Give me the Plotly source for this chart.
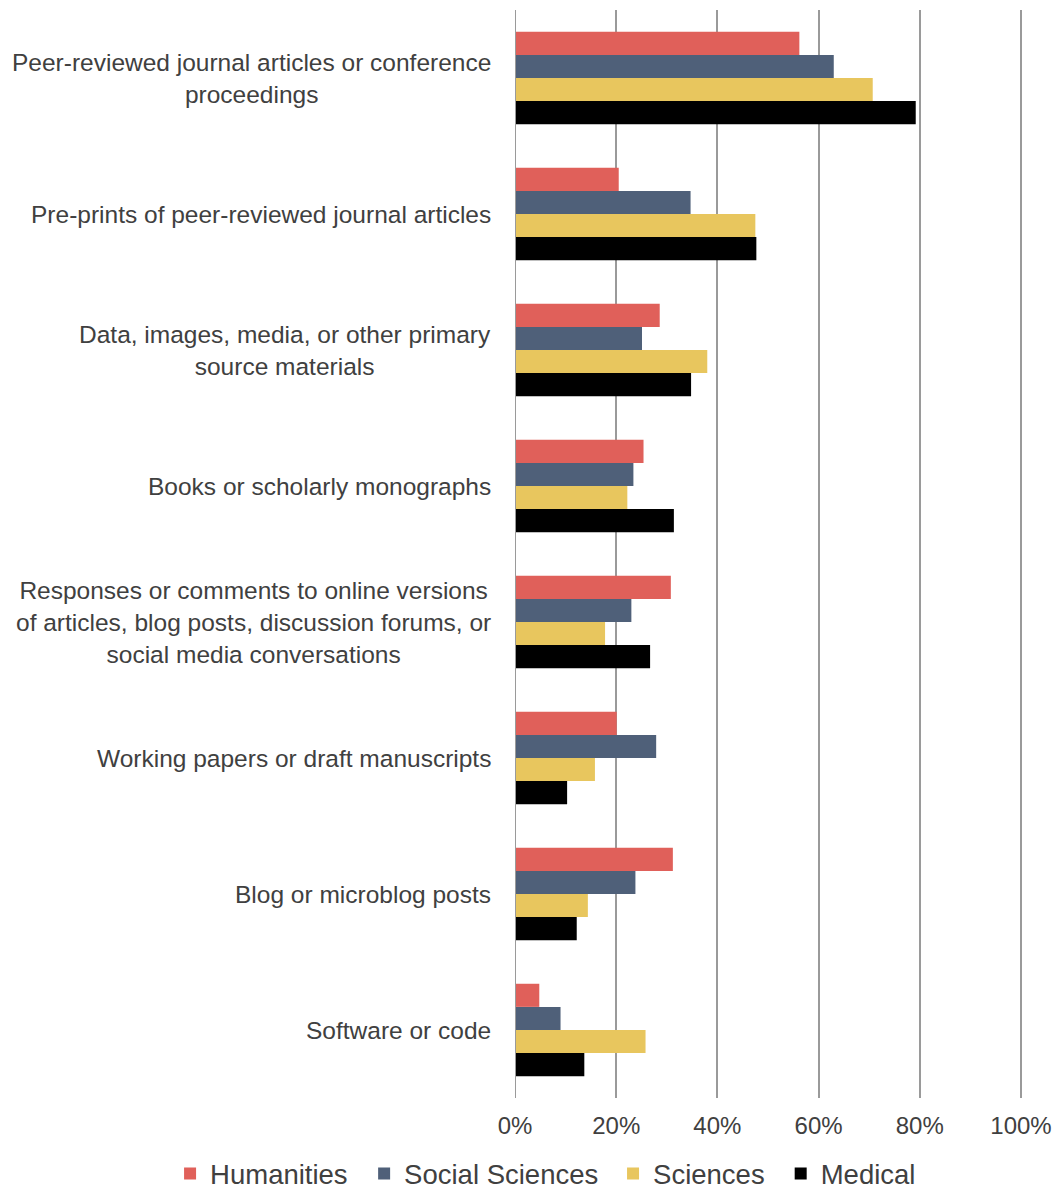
import plotly.graph_objects as go

# categories, top to bottom
kategoriler = [
    "Peer-reviewed journal articles or conference<br>proceedings",
    "Pre-prints of peer-reviewed journal articles",
    "Data, images, media, or other primary<br>source materials",
    "Books or scholarly monographs",
    "Responses or comments to online versions<br>of articles, blog posts, discussion forums, or<br>social media conversations",
    "Working papers or draft manuscripts",
    "Blog or microblog posts",
    "Software or code",
]

humanities = [56.2, 20.5, 28.6, 25.4, 30.8, 20.1, 31.2, 4.8]
social_sciences = [63.0, 34.7, 25.1, 23.4, 23.0, 27.9, 23.8, 9.0]
sciences = [70.7, 47.5, 38.0, 22.2, 17.8, 15.8, 14.4, 25.8]
medical = [79.2, 47.7, 34.8, 31.4, 26.7, 10.3, 12.2, 13.7]

seri_adlari = ["Humanities", "Social Sciences", "Sciences", "Medical"]
renkler = ["#E0605A", "#4F6079", "#E8C65E", "#000000"]
x_tick_degerleri = [0, 20, 40, 60, 80, 100]
x_tick_etiketleri = ["0%", "20%", "40%", "60%", "80%", "100%"]

yazi = "Liberation Sans, Arial, Helvetica, sans-serif"
gri = "#9a9a9a"

# her seri kendi lejantinda, alt satirda yan yana
lejant_adlari = ["legend", "legend2", "legend3", "legend4"]
lejant_x = [-0.679, -0.297, 0.193, 0.523]

fig = go.Figure()
for ad, degerler, renk, lj in zip(seri_adlari, [humanities, social_sciences, sciences, medical], renkler, lejant_adlari):
    fig.add_trace(go.Bar(y=kategoriler, x=degerler, name=ad, orientation='h', legend=lj,
                         marker=dict(color=renk, line=dict(width=0))))

# kategori etiketleri: satirlar ortali, sag kenar eksene yakin
for k in kategoriler:
    fig.add_annotation(x=0, xref='paper', xanchor='right', xshift=-22, y=k, yref='y',
                       text=k, showarrow=False, align='center',
                       font=dict(family=yazi, size=24.5, color="#404040"))

lejant_ortak = dict(orientation='h', xanchor='left', y=-0.047, yanchor='top',
                    font=dict(size=27.5, color="#404040"), itemwidth=30,
                    bgcolor='rgba(0,0,0,0)')

fig.update_layout(
    width=1056, height=1192,
    margin=dict(l=515, r=33, t=10, b=94, autoexpand=False),
    paper_bgcolor='white', plot_bgcolor='white',
    barmode='group', bargap=0.32, bargroupgap=0,
    font=dict(family=yazi, size=24, color="#404040"),
    showlegend=True,
    xaxis=dict(range=[0, 100.4], tickvals=x_tick_degerleri, ticktext=x_tick_etiketleri,
               showgrid=True, gridcolor=gri, gridwidth=2, zeroline=False,
               showline=False, ticks='', ticklabelstandoff=11,
               tickfont=dict(size=24, color="#404040")),
    yaxis=dict(autorange='reversed', showticklabels=False, showgrid=False,
               showline=False, ticks='', zeroline=False),
)
for lj, lx in zip(lejant_adlari, lejant_x):
    fig.update_layout({lj: dict(x=lx, **lejant_ortak)})
fig.add_vline(x=0, line=dict(color=gri, width=2))

fig.write_html("out.html", config={'displayModeBar': False},
               post_script="document.body.style.margin='0';document.body.style.overflow='hidden';")
